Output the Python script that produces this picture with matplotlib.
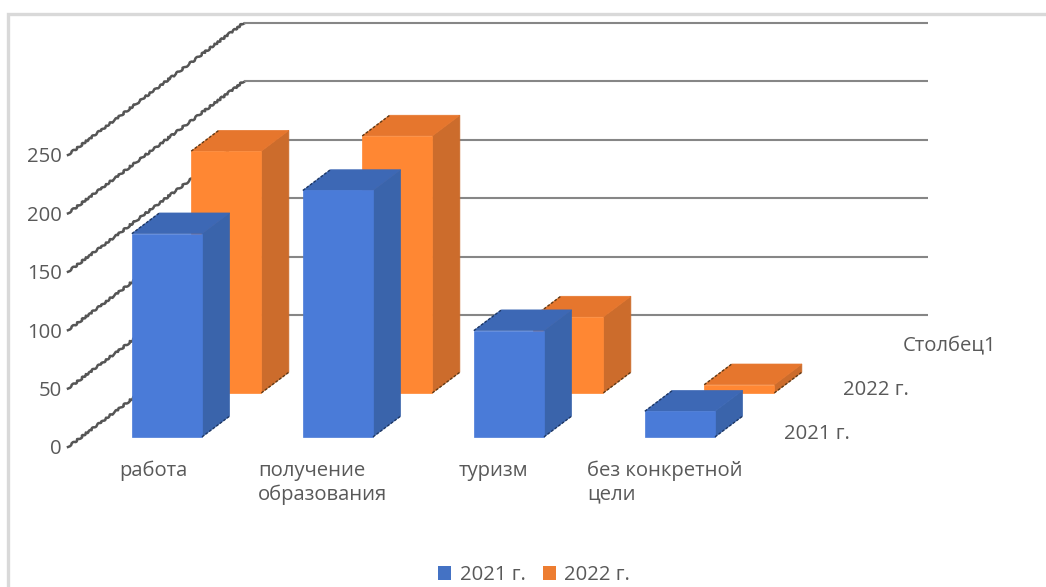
import matplotlib
matplotlib.use("Agg")
import matplotlib.pyplot as plt
from matplotlib.patches import Polygon, Patch

categories = ["работа", "получение\nобразования", "туризм", "без конкретной\nцели"]
series_names = ["2021 г.", "2022 г.", "Столбец1"]
values_2021 = [174, 211, 91, 22]
values_2022 = [207, 220, 65, 7]
value_ticks = [0, 50, 100, 150, 200, 250]

W, H = 1046, 587
X0, XS = 68.0, 171.0     # pixel position of category 0, pixels per category
Y0, YS = 447.0, 1.168    # pixel position of value 0, pixels per value
DX, DY = 58.5, 44.0      # pixels per depth slot

FONT = ["Open Sans", "DejaVu Sans"]
FS = 14.6
TXT = "#595959"
plt.rcParams["font.family"] = FONT

fig = plt.figure(figsize=(W / 100, H / 100), dpi=100)
ax = fig.add_axes([0, 0, 1, 1])
ax.set_xlim(-X0 / XS, (W - X0) / XS)
ax.set_ylim((Y0 - H) / YS, Y0 / YS)
ax.axis("off")


def pr(c, d, v):
    """category position, depth slot, value -> data coordinates of the flat axes"""
    return c + d * DX / XS, v + d * DY / YS


def px(x, y):
    return (x - X0) / XS, (Y0 - y) / YS


# frame: left and top only, the picture is cut off on the right and bottom
fx, fy = zip(px(8.5, H + 5), px(8.5, 13.5), px(W + 5, 13.5))
ax.plot(fx, fy, color="#D9D9D9", lw=2.4, zorder=0, solid_joinstyle="miter")

# walls / gridlines
for v in value_ticks:
    a, b = pr(0, 0, v), pr(0, 3, v)
    c = pr(4, 3, v)
    ln, = ax.plot([a[0], b[0]], [a[1], b[1]], color="#555555", lw=1.8, zorder=1)
    ln.set_sketch_params(scale=0.9, length=7, randomness=3)
    ax.plot([b[0], c[0]], [b[1], c[1]], color="#868686", lw=1.5, zorder=1, solid_capstyle="butt")
    ax.text(*px(62, Y0 - YS * v + 2.5), str(v), ha="right", va="center", color=TXT, fontsize=FS)


def bar3d(cat, slot, val, off, front, side, top, edge, z):
    x0, x1 = cat + off, cat + off + 0.41
    d0, d1 = slot + 0.23, slot + 0.70
    f = [pr(x0, d0, 0), pr(x1, d0, 0), pr(x1, d0, val), pr(x0, d0, val)]
    s = [pr(x1, d0, 0), pr(x1, d1, 0), pr(x1, d1, val), pr(x1, d0, val)]
    t = [pr(x0, d0, val), pr(x1, d0, val), pr(x1, d1, val), pr(x0, d1, val)]
    for pts, col, zz in ((s, side, 0), (t, top, 0.01), (f, front, 0.02)):
        ax.add_patch(Polygon(pts, closed=True, fc=col, ec=col, lw=0.5, zorder=z + zz))
    # the dark, broken edges on the left of the top face and under the side face
    for p, q in ((t[0], t[3]), (s[0], s[1])):
        ax.plot([p[0], q[0]], [p[1], q[1]], color=edge, lw=1.0, ls=(0, (2, 1.2)), zorder=z + 0.03)


for i, v in enumerate(values_2022):
    bar3d(i, 1, v, 0.30, "#FF8733", "#CC6C2C", "#E6762D", "#5E3A18", 3 + i * 0.1)
for i, v in enumerate(values_2021):
    bar3d(i, 0, v, 0.295, "#4A7BD8", "#3A64AB", "#3D68B5", "#1F3864", 4 + i * 0.1)

# category labels
label_x = [119, 258, 459, 587]
for lx, name in zip(label_x, categories):
    ax.text(*px(lx, 461), name, ha="left", va="top", color=TXT, fontsize=FS, linespacing=1.2)

# depth axis labels
for (lx, ly), name in zip([(784, 434), (843, 390), (903, 346)], series_names):
    ax.text(*px(lx, ly), name, ha="left", va="center", color=TXT, fontsize=FS)

handles = [Patch(fc="#4472C4", ec="none"), Patch(fc="#ED7D31", ec="none")]
ax.legend(handles, series_names[:2], ncol=2, frameon=False, loc="center",
          bbox_to_anchor=(534 / W, 1 - 575 / H), bbox_transform=fig.transFigure,
          fontsize=FS, labelcolor=TXT, handlelength=0.66, handleheight=0.7,
          handletextpad=0.4, columnspacing=0.85, borderpad=0)

fig.savefig("out.png", dpi=100, facecolor="white")
